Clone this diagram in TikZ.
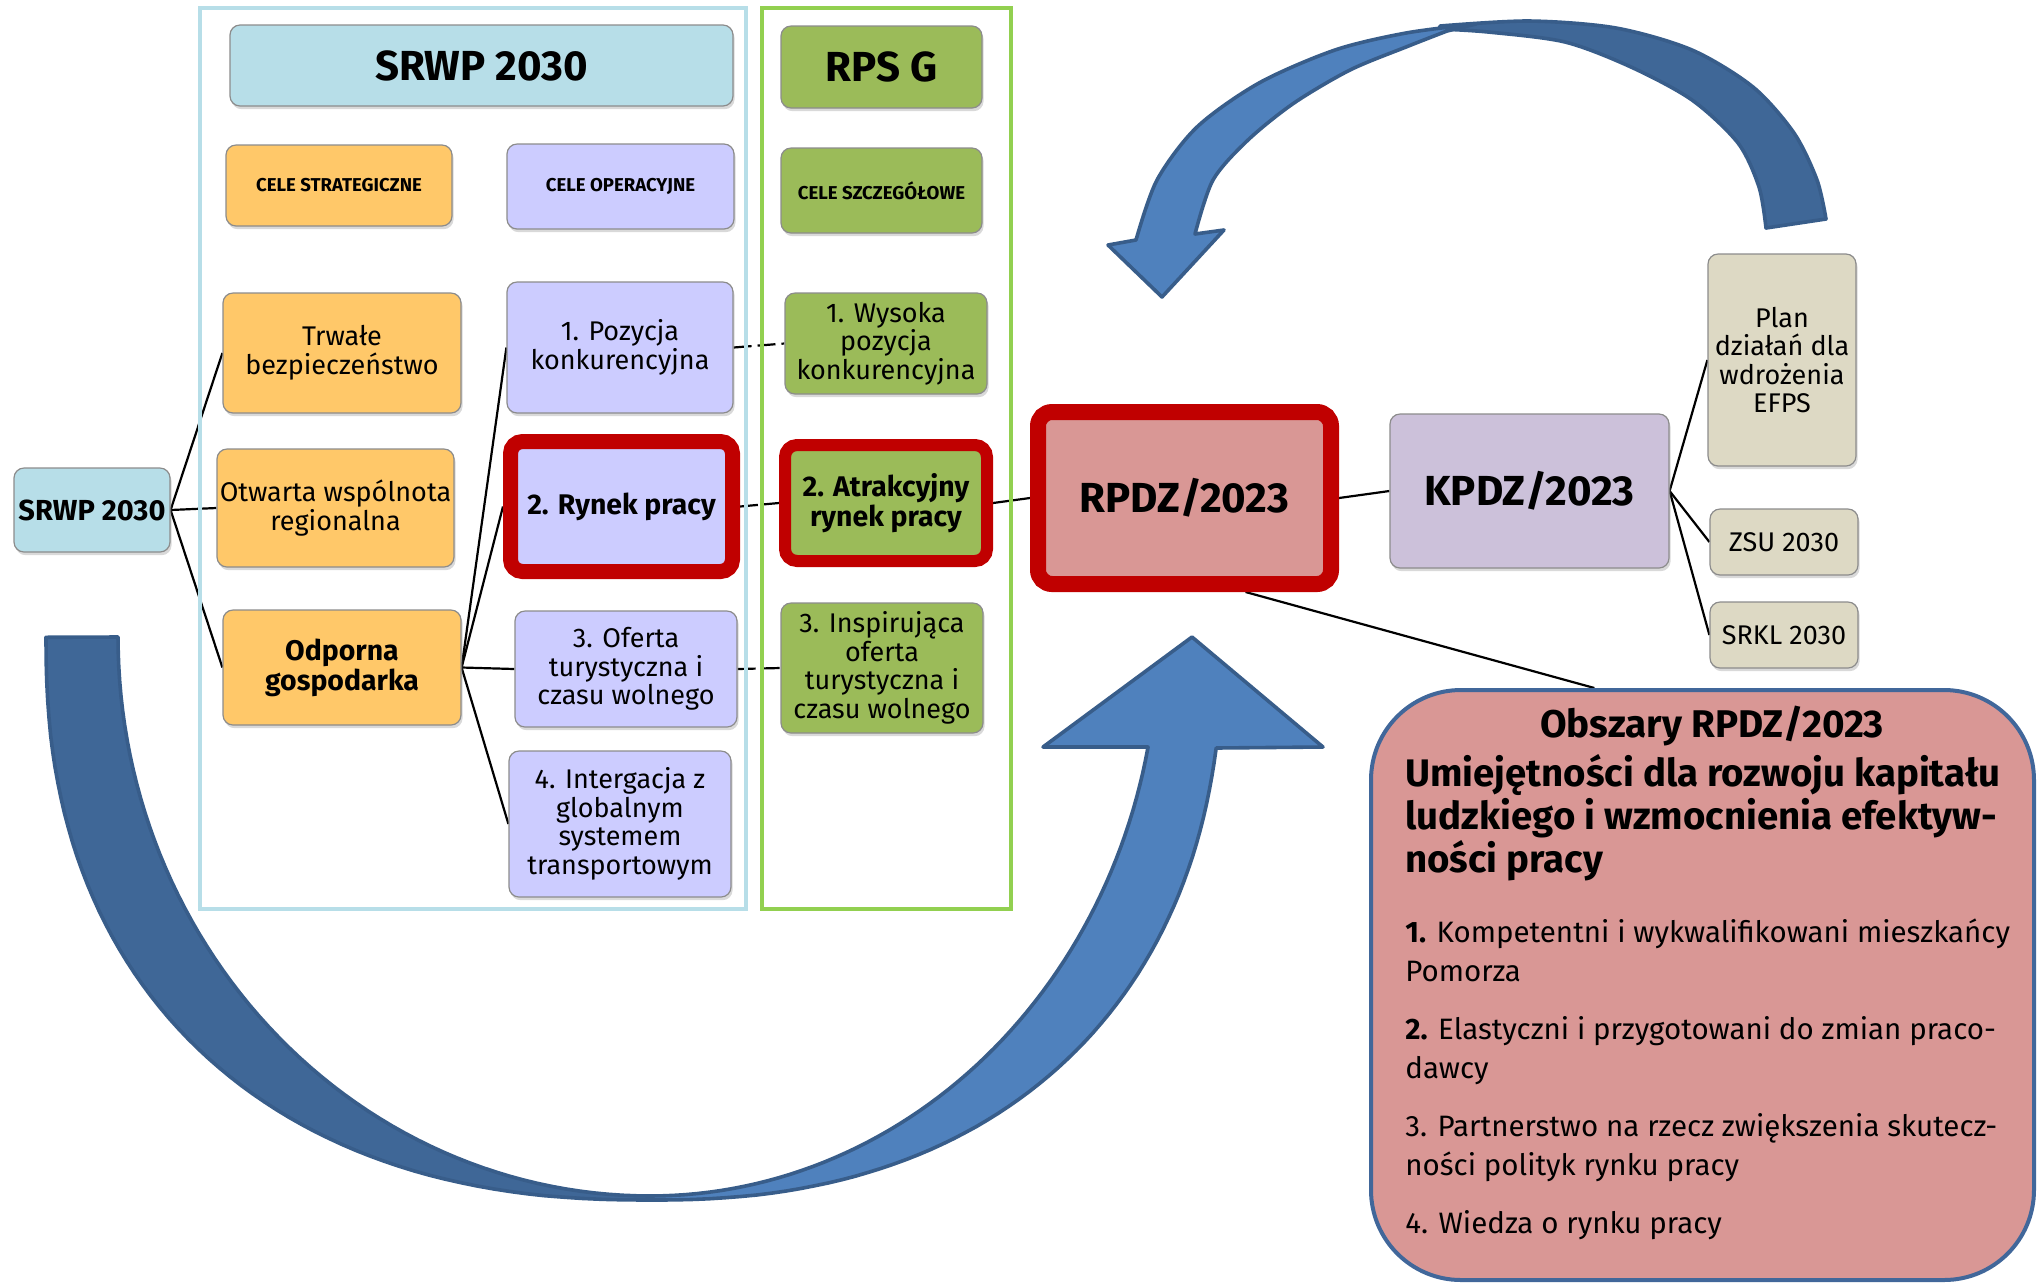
\documentclass[tikz,border=0pt]{standalone}
\usepackage{fontspec}
\setmainfont{Fira Sans}
\usetikzlibrary{shadows,calc}
\definecolor{cblue}{HTML}{B7DEE8}
\definecolor{corange}{HTML}{FFC869}
\definecolor{clav}{HTML}{CCCCFF}
\definecolor{cgreen}{HTML}{9BBB59}
\definecolor{cgreenline}{HTML}{92D050}
\definecolor{cred}{HTML}{C00000}
\definecolor{cpink}{HTML}{D99795}
\definecolor{ckpdz}{HTML}{CCC1DA}
\definecolor{ctan}{HTML}{DDD9C4}
\definecolor{adark}{HTML}{3F6797}
\definecolor{alight}{HTML}{4F81BD}
\definecolor{aline}{HTML}{385D8A}
\definecolor{obsline}{HTML}{41679A}
\pgfdeclarelayer{bg}
\pgfsetlayers{bg,main}
\begin{document}
\begin{tikzpicture}[x=0.5pt,y=-0.5pt,
  box/.style={rectangle, rounded corners=5pt, draw=black!45, line width=0.6pt, align=center, inner sep=1pt,
    drop shadow={opacity=0.3, shadow xshift=0.8pt, shadow yshift=-1.6pt}},
  rtxt/.style={font=\fontsize{13.5}{14.3}\selectfont},
  btxt/.style={font=\fontsize{14.2}{15}\selectfont\bfseries},
  ctxt/.style={font=\fontsize{9.3}{11}\selectfont\bfseries},
  htxt/.style={font=\fontsize{21}{24}\selectfont\bfseries},
  hot/.style={draw=cred, line width=#1},
  conn/.style={line width=1.1pt},
  dconn/.style={line width=1.1pt, dash pattern=on 9pt off 3pt},
  arrowdark/.style={fill=adark, draw=aline, line width=1.8pt, line join=round},
  arrowlight/.style={fill=alight, draw=aline, line width=1.8pt, line join=round},
  container/.style={line width=2pt}
]
\useasboundingbox (0,0) rectangle (2042,1282);

% headers
\node[box, fill=cblue, minimum width=251.5pt, minimum height=40.5pt, htxt] (hsrwp) at (481.5,65.5) {SRWP 2030};
\node[box, fill=cgreen, minimum width=100.5pt, minimum height=41pt, htxt] (hrps) at (881.5,67) {RPS G};
\node[box, fill=corange, minimum width=113pt, minimum height=40.5pt, ctxt] (cstr) at (339,185.5) {CELE STRATEGICZNE};
\node[box, fill=clav, minimum width=113.5pt, minimum height=42.5pt, ctxt] (cop) at (620.5,186.5) {CELE OPERACYJNE};
\node[box, fill=cgreen, minimum width=100.5pt, minimum height=42.5pt, ctxt] (csz) at (881.5,190.5) {CELE SZCZEGÓŁOWE};

% left
\node[box, fill=cblue, minimum width=78pt, minimum height=42pt, font=\fontsize{14.5}{16}\selectfont\bfseries] (srwp) at (92,510) {SRWP 2030};
\node[box, fill=corange, minimum width=119pt, minimum height=60pt, rtxt] (trw) at (342,353) {Trwałe\\bezpieczeństwo};
\node[box, fill=corange, minimum width=118.5pt, minimum height=59pt, rtxt] (otw) at (335.5,508) {Otwarta wspólnota\\regionalna};
\node[box, fill=corange, minimum width=119pt, minimum height=57.5pt, btxt] (odp) at (342,667.5) {Odporna\\gospodarka};

% operational
\node[box, fill=clav, minimum width=113pt, minimum height=65.5pt, rtxt] (op1) at (620,347.5) {1. Pozycja\\konkurencyjna};
\node[box, fill=clav, hot=7.5pt, rounded corners=6pt, minimum width=111pt, minimum height=65pt, btxt] (op2) at (621.5,506.5) {2. Rynek pracy};
\node[box, fill=clav, minimum width=111pt, minimum height=58pt, rtxt] (op3) at (626,669) {3. Oferta\\turystyczna i\\czasu wolnego};
\node[box, fill=clav, minimum width=111pt, minimum height=73pt, rtxt] (op4) at (620,824) {4. Intergacja z\\globalnym\\systemem\\transportowym};

% specific
\node[box, fill=cgreen, minimum width=101pt, minimum height=50.5pt, rtxt] (sz1) at (886,343.5) {1. Wysoka\\pozycja\\konkurencyjna};
\node[box, fill=cgreen, hot=6pt, rounded corners=6pt, minimum width=101pt, minimum height=58pt, btxt] (sz2) at (886,503) {2. Atrakcyjny\\rynek pracy};
\node[box, fill=cgreen, minimum width=101pt, minimum height=65pt, rtxt] (sz3) at (882,668) {3. Inspirująca\\oferta\\turystyczna i\\czasu wolnego};

% right
\node[box, fill=cpink, hot=8pt, rounded corners=7pt, minimum width=146.5pt, minimum height=86pt, htxt] (rpdz) at (1184.5,498) {RPDZ/2023};
\node[box, fill=ckpdz, minimum width=139.5pt, minimum height=77pt, htxt] (kpdz) at (1529.5,491) {KPDZ/2023};
\node[box, fill=ctan, minimum width=74pt, minimum height=106pt, rtxt] (plan) at (1782,360) {Plan\\działań dla\\wdrożenia\\EFPS};
\node[box, fill=ctan, minimum width=74pt, minimum height=33pt, rtxt] (zsu) at (1784,542) {ZSU 2030};
\node[box, fill=ctan, minimum width=74pt, minimum height=33pt, rtxt] (srkl) at (1784,635) {SRKL 2030};

% Obszary box
\node[rectangle, rounded corners=45pt, fill=cpink, draw=obsline, line width=2pt, minimum width=331.5pt, minimum height=295pt] (obs) at (1702.5,985) {};
\node[anchor=base, inner sep=0pt, font=\fontsize{19.3}{22}\selectfont\bfseries] (obst) at (1712,737) {Obszary RPDZ/2023};
\node[anchor=base west, align=left, inner sep=0pt, font=\fontsize{19.2}{21.5}\selectfont\bfseries] (obsh) at (1405,872)
  {Umiejętności dla rozwoju kapitału\\ludzkiego i wzmocnienia efektyw-\\ności pracy};
\node[anchor=base west, align=left, inner sep=0pt, font=\fontsize{14.75}{19.5}\selectfont] (obsl) at (1405,1233)
  {\textbf{1.} Kompetentni i wykwalifikowani mieszkańcy\\Pomorza\\[9.5pt]
   \textbf{2.} Elastyczni i przygotowani do zmian praco-\\dawcy\\[9.5pt]
   3. Partnerstwo na rzecz zwiększenia skutecz-\\ności polityk rynku pracy\\[9.5pt]
   4. Wiedza o rynku pracy};

\begin{pgfonlayer}{bg}
  % connectors
  \draw[conn] (srwp.east) -- (trw.west);
  \draw[conn] (srwp.east) -- (otw.west);
  \draw[conn] (srwp.east) -- (odp.west);
  \draw[conn] (odp.east) -- (op1.west);
  \draw[conn] (odp.east) -- (op2.west);
  \draw[conn] (odp.east) -- (op3.west);
  \draw[conn] (odp.east) -- (op4.west);
  \draw[dconn] (op1.east) -- (sz1.west);
  \draw[dconn] (op2.east) -- (sz2.west);
  \draw[dconn] (op3.east) -- (sz3.west);
  \draw[conn] (sz2.east) -- (rpdz.west);
  \draw[conn] (rpdz.east) -- (kpdz.west);
  \draw[conn] (kpdz.east) -- (plan.west);
  \draw[conn] (kpdz.east) -- (zsu.west);
  \draw[conn] (kpdz.east) -- (srkl.west);
  \draw[conn] (rpdz.-57) -- (obs.110);
  % containers
  \draw[container, draw=cblue] (200,8) rectangle (746,909);
  \draw[container, draw=cgreenline] (762,8) rectangle (1011,909);
\end{pgfonlayer}

% top curved arrow
\draw[arrowdark] plot[smooth] coordinates {(1826,219) (1817,180) (1794,133) (1753,87) (1692,50) (1616,28) (1529,21) (1440,26)}
  -- plot[smooth] coordinates {(1440,29) (1488,32) (1565,42) (1631,67) (1692,100) (1738,143) (1759,187) (1766,228)} -- cycle;
\draw[arrowlight] plot[smooth] coordinates {(1476,24) (1406,33) (1335,50) (1259,83) (1197,127) (1157,180) (1136,240)}
  -- (1108,245) -- (1162,297) -- (1224,230) -- (1195,234)
  -- plot[smooth] coordinates {(1195,234) (1213,180) (1248,140) (1294,103) (1350,70) (1406,47) (1447,31)} -- cycle;

% bottom curved arrow
\draw[arrowdark] plot[domain=0.01:89.99, samples=60, variable=\t] ({650-604*cos(\t)^0.87},{637+563*sin(\t)^0.87})
  -- plot[domain=90:0, samples=60, variable=\t] ({650-532*cos(\t)},{637+559*sin(\t)}) -- cycle;
\draw[arrowlight] plot[domain=90:11.35, samples=60, variable=\t] ({650+508*cos(\t)},{637+559*sin(\t)})
  -- (1043,747) -- (1192,637) -- (1323,747)
  -- plot[domain=8.81:89.99, samples=60, variable=\t] ({650+572*cos(\t)^0.87},{637+563*sin(\t)^0.87}) -- cycle;
\end{tikzpicture}
\end{document}
